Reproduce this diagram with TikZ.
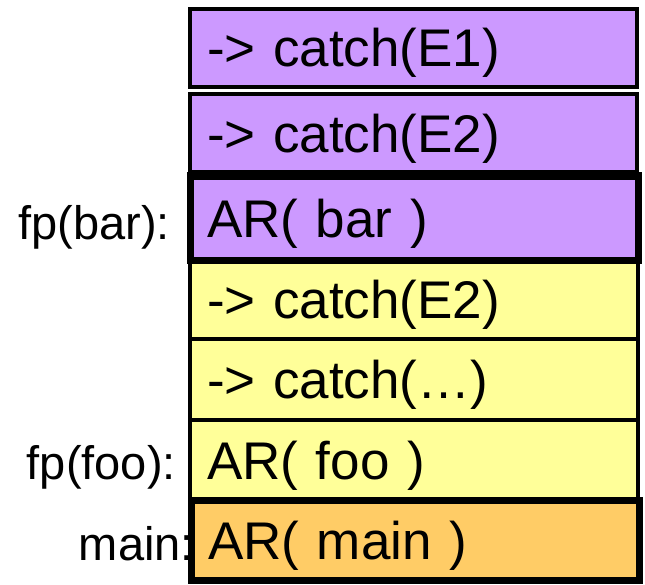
\documentclass[tikz,border=0pt]{standalone}
\usepackage{fontspec}
\setmainfont{Liberation Sans}
\definecolor{purp}{HTML}{CC99FF}
\definecolor{yell}{HTML}{FFFF99}
\definecolor{oran}{HTML}{FFCC66}
\tikzset{
  frame/.style={draw=black, line width=3.5bp, outer sep=0pt, inner xsep=17bp, inner ysep=0pt,
    text height=38bp, text depth=0pt, align=left, anchor=north west,
    font=\fontsize{53bp}{60bp}\selectfont},
  thickframe/.style={frame, line width=7bp},
  lbl/.style={inner sep=0pt, anchor=base east, font=\fontsize{47bp}{54bp}\selectfont}
}
\begin{document}
\begin{tikzpicture}[x=1bp,y=-1bp]
\useasboundingbox (0,0) rectangle (645,585);
% labels (drawn first so boxes cover them)
\node[lbl] (lbar) at (170,239) {fp(bar):};
\node[lbl] (lfoo) at (176,479) {fp(foo):};
\node[lbl] (lmain) at (194,560) {main:};
% purple frames
\node[frame, fill=purp, minimum width=447bp, minimum height=78bp, text width=413bp] (e1) at (190,9) {-> catch(E1)};
\node[frame, fill=purp, minimum width=447bp, minimum height=78bp, text width=413bp] (e2) at (190,94) {-> catch(E2)};
% yellow frames
\node[frame, fill=yell, minimum width=448bp, minimum height=79bp, text width=414bp] (y1) at (190,260) {-> catch(E2)};
\node[frame, fill=yell, minimum width=448bp, minimum height=81bp, text width=414bp] (y2) at (190,339) {-> catch(…)};
\node[frame, fill=yell, minimum width=448bp, minimum height=80bp, text width=414bp] (foo) at (190,420) {AR( foo )};
% thick frames
\node[thickframe, fill=purp, minimum width=448bp, minimum height=84bp, text width=414bp] (bar) at (190,176) {AR( bar )};
\node[thickframe, fill=oran, minimum width=448bp, minimum height=80bp, text width=414bp] (main) at (191,500) {AR( main )};
\end{tikzpicture}
\end{document}
